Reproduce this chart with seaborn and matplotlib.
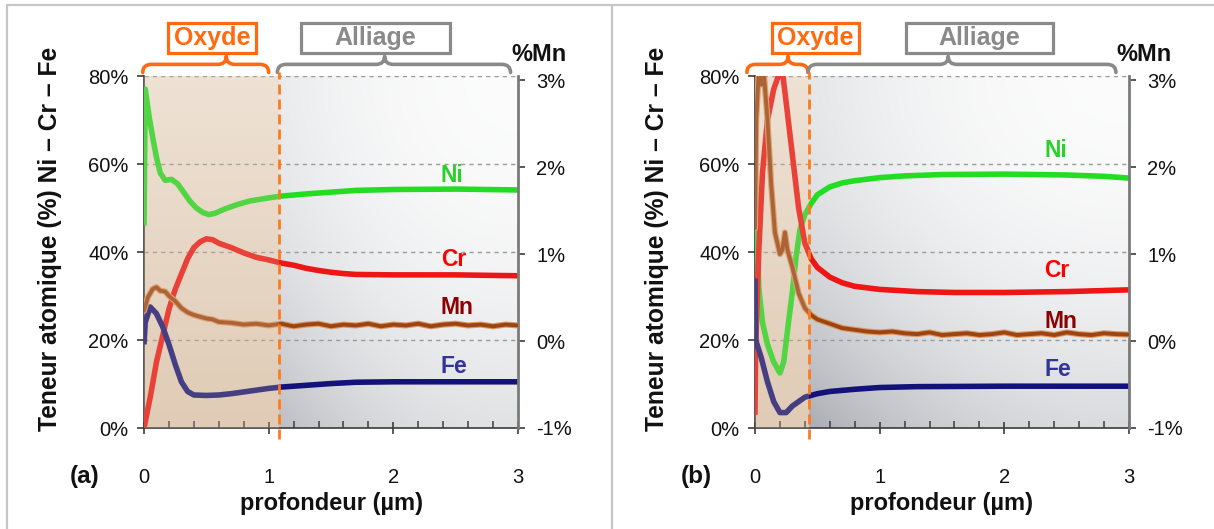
import numpy as np
import pandas as pd
import matplotlib
matplotlib.use("Agg")
import matplotlib.pyplot as plt
import matplotlib.transforms as mtransforms
import matplotlib.patheffects as pe
from matplotlib.patches import Rectangle, PathPatch
from matplotlib.path import Path
from matplotlib.lines import Line2D
import seaborn as sns

# ---------------- data ----------------
# panel (a)  (depth in µm, atomic % ; Mn in % on the right axis)
a_ni_x = [0, 0.01, 0.04, 0.07, 0.1, 0.13, 0.17, 0.22, 0.27, 0.32, 0.37, 0.42, 0.47, 0.52,
          0.57, 0.65, 0.75, 0.85, 1.0, 1.1, 1.3, 1.5, 1.7, 2.0, 2.5, 3.0]
a_ni = [46, 77, 71, 66, 61.5, 58, 56.3, 56.5, 55.5, 53.5, 51.5, 50, 49, 48.5,
        48.8, 49.8, 50.8, 51.6, 52.3, 52.7, 53.2, 53.6, 54.0, 54.2, 54.3, 54.1]
a_cr_x = [0, 0.05, 0.1, 0.15, 0.2, 0.25, 0.3, 0.35, 0.4, 0.45, 0.5, 0.55, 0.6, 0.7,
          0.8, 0.9, 1.0, 1.1, 1.2, 1.3, 1.4, 1.5, 1.6, 1.7, 2.0, 2.5, 3.0]
a_cr = [0, 7, 15, 21, 27, 31.5, 35, 38.5, 41, 42.3, 43, 42.8, 42, 41,
        39.8, 38.8, 38.2, 37.5, 37, 36.3, 35.8, 35.4, 35.1, 34.9, 34.8, 34.8, 34.6]
a_fe_x = [0, 0.01, 0.05, 0.1, 0.15, 0.2, 0.25, 0.3, 0.35, 0.4, 0.5, 0.6, 0.7, 0.8,
          0.9, 1.0, 1.1, 1.3, 1.5, 1.7, 2.0, 2.5, 3.0]
a_fe = [19, 24, 27.5, 26, 23, 19, 14.5, 10.5, 8.3, 7.5, 7.4, 7.5, 7.8, 8.2,
        8.6, 9.0, 9.3, 9.7, 10.1, 10.4, 10.5, 10.5, 10.5]
a_mn_x = [0, 0.03, 0.07, 0.1, 0.13, 0.17, 0.2, 0.25, 0.3, 0.35, 0.4, 0.45, 0.5, 0.55,
          0.6, 0.7, 0.8, 0.9, 1.0, 1.1, 1.2, 1.3, 1.4, 1.5, 1.6, 1.7, 1.8, 1.9,
          2.0, 2.1, 2.2, 2.3, 2.4, 2.5, 2.6, 2.7, 2.8, 2.9, 3.0]
a_mn = [0.35, 0.5, 0.6, 0.62, 0.58, 0.57, 0.52, 0.46, 0.38, 0.33, 0.3, 0.28, 0.26, 0.25,
        0.22, 0.21, 0.19, 0.2, 0.18, 0.2, 0.17, 0.19, 0.2, 0.17, 0.19, 0.18, 0.2, 0.17,
        0.19, 0.18, 0.2, 0.17, 0.19, 0.2, 0.18, 0.19, 0.17, 0.19, 0.18]
a_oxide_end = 1.08

# panel (b)
b_ni_x = [0, 0.01, 0.03, 0.06, 0.1, 0.15, 0.2, 0.23, 0.26, 0.3, 0.33, 0.36, 0.4, 0.45,
          0.5, 0.6, 0.7, 0.8, 1.0, 1.2, 1.5, 2.0, 2.5, 2.8, 3.0]
b_ni = [62, 50, 32, 24, 19, 15, 12.5, 15, 22, 31, 39, 45, 48.5, 51,
        53, 54.8, 55.7, 56.2, 56.9, 57.3, 57.6, 57.7, 57.5, 57.2, 56.8]
b_cr_x = [0, 0.005, 0.03, 0.06, 0.1, 0.15, 0.2, 0.22, 0.25, 0.3, 0.35, 0.4, 0.45, 0.5,
          0.6, 0.7, 0.8, 1.0, 1.3, 1.6, 2.0, 2.5, 3.0]
b_cr = [3, 18, 40, 58, 70, 77, 81, 81, 74, 62, 50, 42, 38.5, 36.5,
        34.3, 33, 32.2, 31.5, 31, 30.8, 30.8, 31, 31.4]
b_fe_x = [0, 0.005, 0.05, 0.1, 0.15, 0.2, 0.25, 0.3, 0.35, 0.4, 0.5, 0.6, 0.8, 1.0,
          1.3, 2.0, 3.0]
b_fe = [34, 20, 16, 10.5, 6, 3.5, 3.5, 5, 6, 7, 7.8, 8.3, 8.8, 9.2,
        9.4, 9.5, 9.5]
b_mn_x = [0, 0.01, 0.03, 0.05, 0.07, 0.1, 0.13, 0.16, 0.2, 0.22, 0.24, 0.26, 0.3, 0.35,
          0.4, 0.45, 0.5, 0.6, 0.7, 0.8, 0.9, 1.0, 1.1, 1.2, 1.3, 1.4, 1.5, 1.6,
          1.7, 1.8, 1.9, 2.0, 2.1, 2.2, 2.3, 2.4, 2.5, 2.6, 2.7, 2.8, 2.9, 3.0]
b_mn = [1.3, 2.55, 3.1, 2.95, 3.1, 2.55, 1.8, 1.25, 1.0, 1.05, 1.25, 1.05, 0.85, 0.55,
        0.38, 0.3, 0.25, 0.2, 0.15, 0.13, 0.11, 0.1, 0.11, 0.09, 0.08, 0.1, 0.07, 0.08,
        0.09, 0.07, 0.08, 0.1, 0.07, 0.08, 0.09, 0.07, 0.1, 0.08, 0.07, 0.09, 0.08, 0.075]
b_oxide_end = 0.43

left_ticks = [0, 20, 40, 60, 80]
left_ticklabels = ["0%", "20%", "40%", "60%", "80%"]
right_ticks = [-1, 0, 1, 2, 3]
right_ticklabels = ["-1%", "0%", "1%", "2%", "3%"]
x_ticks = [0, 1, 2, 3]
x_ticklabels = ["0", "1", "2", "3"]
element_names = ["Ni", "Cr", "Mn", "Fe"]
a_label_y = [57.3, 38.2, 27.3, 13.9]
b_label_y = [63.0, 35.7, 24.3, 13.4]

# ---------------- style ----------------
sns.set_theme(style="white")
plt.rcParams["font.family"] = ["Liberation Sans", "DejaVu Sans"]

C_NI = "#22dd22"
C_CR = "#ee1515"
C_MN = "#9c4412"
C_MN_HALO = "#dc9a66"
C_FE = "#12127a"
LABEL_COLORS = ["#2bd12b", "#ff0000", "#8b0000", "#333399"]
ORANGE = "#ff6a10"
GRAY = "#8a8a8a"

W, H = 1214, 529
fig = plt.figure(figsize=(W / 100, H / 100), dpi=100)


def brace(ax, x0, x1, xp, color):
    tr = mtransforms.blended_transform_factory(ax.transData, ax.transAxes)
    yb, ye, yp = 1.033, 1.010, 1.056
    r = 0.07
    verts = [(x0, ye), (x0, yb), (x0 + r, yb),
             (xp - r, yb), (xp, yb), (xp, yp),
             (xp, yb), (xp + r, yb),
             (x1 - r, yb), (x1, yb), (x1, ye)]
    codes = [Path.MOVETO, Path.CURVE3, Path.CURVE3,
             Path.LINETO, Path.CURVE3, Path.CURVE3,
             Path.CURVE3, Path.CURVE3,
             Path.LINETO, Path.CURVE3, Path.CURVE3]
    p = PathPatch(Path(verts, codes), transform=tr, fill=False, edgecolor=color,
                  lw=2.6, capstyle="round", joinstyle="round", clip_on=False, zorder=10)
    ax.add_patch(p)


def box(ax, x0, x1, text, color):
    tr = mtransforms.blended_transform_factory(ax.transData, ax.transAxes)
    y0, y1 = 1.066, 1.150
    ax.add_patch(Rectangle((x0, y0), x1 - x0, y1 - y0, transform=tr, fill=True,
                           facecolor="white", edgecolor=color, lw=2.3,
                           clip_on=False, zorder=10))
    ax.text((x0 + x1) / 2, (y0 + y1) / 2, text, transform=tr, ha="center",
            va="center", fontsize=18, fontweight="bold", color=color, zorder=11,
            clip_on=False)


def panel(left, tag, ni_x, ni, cr_x, cr, fe_x, fe, mn_x, mn, ox_end, label_y,
          label_x, brace_o, brace_a, box_o, box_a, mn_lab_x, ylab_x, dark_k):
    ax = fig.add_axes([left / W, 1 - 428 / H, 374 / W, 352 / H])
    ax.set_xlim(0, 3)
    ax.set_ylim(0, 80)

    # backgrounds
    v = np.linspace(0, 1, 120)[:, None]
    top = np.array([245, 238, 231]) / 255
    bot = np.array([226, 208, 190]) / 255
    ox_img = (bot[None, None, :] * (1 - v[..., None]) + top[None, None, :] * v[..., None])
    ox_img = np.repeat(ox_img, 2, axis=1)
    ax.imshow(ox_img, extent=(0, ox_end, 0, 80), origin="lower", aspect="auto",
              zorder=0, interpolation="bilinear")
    u = np.linspace(0, 1, 240)[None, :]
    vv = np.linspace(0, 1, 160)[:, None]
    d = 0.04 + dark_k * (0.22 * (1 - u) ** 2.2 + 0.34 * (1 - vv) ** 2
                         + 0.25 * (1 - u) ** 2.2 * (1 - vv) ** 2)
    d = np.clip(d, 0, 1)
    dark = np.array([168, 171, 178]) / 255
    al_img = (1 - d[..., None]) * 1.0 + d[..., None] * dark[None, None, :]
    ax.imshow(al_img, extent=(ox_end, 3, 0, 80), origin="lower", aspect="auto",
              zorder=0, interpolation="bilinear")

    ax.set_yticks(left_ticks)
    ax.set_yticklabels(left_ticklabels)
    ax.yaxis.grid(True, linestyle=(0, (3, 3)), color="#9a9a9a", lw=1.0, zorder=0.5)
    ax.set_axisbelow(True)
    ax.set_xticks(x_ticks)
    ax.set_xticklabels(x_ticklabels)
    ax.set_xticks([0.2, 0.4, 0.6, 0.8, 1.2, 1.4, 1.6, 1.8, 2.2, 2.4, 2.6, 2.8], minor=True)

    df = pd.concat([
        pd.DataFrame({"x": ni_x, "y": ni, "el": "Ni"}),
        pd.DataFrame({"x": cr_x, "y": cr, "el": "Cr"}),
        pd.DataFrame({"x": fe_x, "y": fe, "el": "Fe"}),
    ])
    sns.lineplot(data=df, x="x", y="y", hue="el", units="el", estimator=None,
                 sort=False, palette={"Ni": C_NI, "Cr": C_CR, "Fe": C_FE},
                 lw=4.0, ax=ax, legend=False, zorder=3)
    for ln in ax.get_lines():
        ln.set_clip_on(True)
        ln.set_solid_capstyle("butt")

    ax2 = ax.twinx()
    ax2.set_ylim(-0.95, 3.05)
    ax2.set_yticks(right_ticks)
    ax2.set_yticklabels(right_ticklabels)
    mdf = pd.DataFrame({"x": mn_x, "y": mn})
    sns.lineplot(data=mdf, x="x", y="y", color=C_MN, lw=2.8, estimator=None,
                 sort=False, ax=ax2, zorder=3)
    for ln in ax2.get_lines():
        ln.set_path_effects([pe.Stroke(linewidth=4.4, foreground=C_MN_HALO), pe.Normal()])
    ax2.set_xlim(0, 3)

    # oxide veil over the curves
    tr2 = mtransforms.blended_transform_factory(ax2.transData, ax2.transAxes)
    ax2.add_patch(Rectangle((0, 0), ox_end, 1, transform=tr2, facecolor="#dcc0a0",
                            alpha=0.26, lw=0, zorder=5))
    ax2.plot([ox_end, ox_end], [-0.03, 1.01], transform=tr2, color="#ff7a1c",
             lw=2.0, ls=(0, (3.6, 1.8)), clip_on=False, zorder=6)

    # spines / ticks
    for a in (ax, ax2):
        a.spines["top"].set_visible(False)
        a.set_xlabel("")
        a.set_ylabel("")
    ax.spines["right"].set_visible(False)
    ax.spines["left"].set_color("#3c3c3c")
    ax.spines["left"].set_linewidth(1.2)
    ax.spines["bottom"].set_color("#3c3c3c")
    ax.spines["bottom"].set_linewidth(1.2)
    ax2.spines["left"].set_visible(False)
    ax2.spines["bottom"].set_visible(False)
    ax2.spines["right"].set_color("#7a7a7a")
    ax2.spines["right"].set_linewidth(2.0)

    ax.tick_params(axis="y", which="major", direction="out", length=5, width=1.2,
                   color="#3c3c3c", pad=6, labelsize=14.5, labelcolor="#111111", left=True)
    ax.tick_params(axis="x", which="major", direction="inout", length=8, width=1.2,
                   color="#3c3c3c", pad=25, labelsize=14.5, labelcolor="#111111", bottom=True)
    ax.tick_params(axis="x", which="minor", direction="in", length=5, width=1.1,
                   color="#3c3c3c", bottom=True)
    ax2.tick_params(axis="y", direction="out", length=5, width=1.2, color="#3c3c3c",
                    pad=8, labelsize=14.5, labelcolor="#111111", right=True)

    # element labels
    for name, ly, col in zip(element_names, label_y, LABEL_COLORS):
        ax.text(label_x, ly, name, color=col, fontsize=16.5, fontweight="bold",
                ha="left", va="center", zorder=12)

    # braces and boxes
    brace(ax, brace_o[0], brace_o[1], brace_o[2], ORANGE)
    brace(ax, brace_a[0], brace_a[1], brace_a[2], GRAY)
    box(ax, box_o[0], box_o[1], "Oxyde", ORANGE)
    box(ax, box_a[0], box_a[1], "Alliage", GRAY)

    tr = mtransforms.blended_transform_factory(ax.transData, ax.transAxes)
    ax.text(mn_lab_x, 1.062, "%Mn", transform=tr, ha="center", va="center",
            fontsize=17, fontweight="bold", color="#111111", clip_on=False)
    ax.text(ylab_x, 0.537, "Teneur atomique (%) Ni \u2013 Cr \u2013 Fe",
            transform=ax.transAxes, rotation=90, ha="center", va="center",
            fontsize=17.7, fontweight="bold", color="#111111")
    ax.text(0.5, -0.215, "profondeur (\u00b5m)", transform=ax.transAxes, ha="center",
            va="center", fontsize=17, fontweight="bold", color="#111111")
    ax.text(-0.158, -0.137, tag, transform=ax.transAxes, ha="center", va="center",
            fontsize=17.5, fontweight="bold", color="#111111")
    return ax, ax2


panel(144, "(a)", a_ni_x, a_ni, a_cr_x, a_cr, a_fe_x, a_fe, a_mn_x, a_mn, a_oxide_end,
      a_label_y, 2.38, (-0.01, 1.0, 0.66), (1.07, 2.94, 1.93), (0.193, 0.901),
      (1.263, 2.453), 3.17, -0.252, 0.9)
panel(755, "(b)", b_ni_x, b_ni, b_cr_x, b_cr, b_fe_x, b_fe, b_mn_x, b_mn, b_oxide_end,
      b_label_y, 2.32, (-0.065, 0.426, 0.265), (0.426, 2.895, 1.55), (0.137, 0.836),
      (1.215, 2.389), 3.117, -0.262, 1.15)

# outer frame lines
frame_kw = dict(color="#c6c6c6", lw=1.6, transform=fig.transFigure)
fig.add_artist(Line2D([7 / W, 1.0], [1 - 5 / H, 1 - 5 / H], **frame_kw))
fig.add_artist(Line2D([7 / W, 7 / W], [0, 1 - 5 / H], **frame_kw))
fig.add_artist(Line2D([612 / W, 612 / W], [0, 1 - 5 / H], **frame_kw))

fig.savefig("out.png", dpi=100)
